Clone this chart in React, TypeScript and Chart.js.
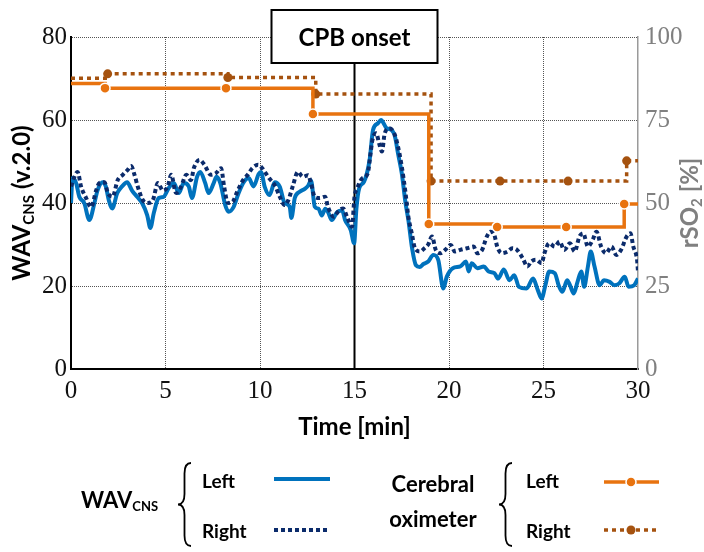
import React, { useEffect, useRef } from "react";
import { Chart, registerables } from "chart.js";

Chart.register(...registerables);

// ---------- data ----------
const xTicks = [0, 5, 10, 15, 20, 25, 30];
const leftTicks = [0, 20, 40, 60, 80];
const rightTicks = [0, 25, 50, 75, 100];
const cpbOnset = 15;

const wavLeftT = [0, 0.08, 0.27, 0.44, 0.7, 0.97, 1.24, 1.4, 1.68, 1.84, 2.0, 2.18, 2.45, 2.7, 2.97, 3.23, 3.5, 3.76, 4.03, 4.2, 4.38, 4.64, 4.9, 5.17, 5.44, 5.7, 5.97, 6.23, 6.4, 6.67, 6.84, 7.1, 7.28, 7.55, 7.7, 7.9, 8.16, 8.34, 8.6, 8.87, 9.14, 9.4, 9.66, 9.93, 10.05, 10.25, 10.5, 10.78, 11.05, 11.3, 11.57, 11.66, 11.84, 12.1, 12.37, 12.55, 12.7, 12.9, 13.1, 13.27, 13.45, 13.6, 13.8, 14.08, 14.35, 14.5, 14.8, 14.98, 15.1, 15.25, 15.5, 15.8, 15.98, 16.24, 16.4, 16.7, 16.96, 17.14, 17.3, 17.5, 17.7, 17.85, 18.05, 18.25, 18.45, 18.65, 18.9, 19.17, 19.43, 19.7, 19.88, 20.2, 20.6, 20.9, 21.04, 21.2, 21.5, 21.84, 22.1, 22.4, 22.6, 22.9, 23.2, 23.45, 23.7, 24.1, 24.45, 24.7, 24.9, 25.1, 25.3, 25.6, 25.8, 26.0, 26.25, 26.4, 26.6, 26.8, 27.0, 27.15, 27.35, 27.5, 27.7, 27.97, 28.2, 28.5, 28.75, 29.0, 29.3, 29.5, 29.8, 30];
const wavLeftV = [40, 46, 44.8, 41.5, 40, 35.9, 40, 43, 45, 44, 40.7, 38.7, 42.4, 44, 45, 43, 41.5, 40, 37.1, 34, 37.6, 41.2, 41.5, 43.6, 44.8, 42.4, 44.8, 44, 41.2, 46.3, 47.5, 44.8, 42.4, 44.8, 46.3, 44.8, 39.5, 37.9, 39, 42.4, 45, 46, 44, 47, 47.5, 43.9, 41.9, 45, 43.9, 40, 39.1, 36.4, 41.2, 42.7, 43.4, 44.2, 45.4, 39.1, 38.6, 37, 38.6, 37.8, 35.9, 37.8, 38.2, 35.9, 33.5, 30.3, 38.6, 43.6, 45.1, 50.4, 57.6, 59.2, 60, 58, 57.6, 56, 52, 47.2, 40, 35.9, 29, 25, 24.6, 25.3, 25.9, 27.5, 26.3, 19.4, 22.2, 24.3, 24.7, 25.9, 23.5, 25.5, 24.3, 24.7, 23.5, 23.1, 21.8, 24, 21.4, 22.6, 19.8, 19.4, 21.8, 19, 17, 20.2, 23.5, 23.1, 20.2, 18.6, 21.4, 20.2, 18.2, 21, 23.5, 19.8, 24.7, 28.3, 24.7, 20.2, 21.4, 21, 20.2, 20.6, 22.2, 19.8, 20.2, 21.8];

const wavRightT = [0, 0.18, 0.35, 0.53, 0.8, 1.06, 1.33, 1.5, 1.77, 1.95, 2.2, 2.47, 2.74, 3.0, 3.18, 3.36, 3.53, 3.8, 4.07, 4.33, 4.6, 4.86, 5.12, 5.3, 5.56, 5.83, 6.1, 6.35, 6.5, 6.8, 7.06, 7.4, 7.67, 7.94, 8.1, 8.3, 8.55, 8.8, 9.1, 9.35, 9.6, 9.9, 10.1, 10.25, 10.5, 10.78, 11.05, 11.3, 11.5, 11.75, 12.0, 12.27, 12.55, 12.7, 12.9, 13.15, 13.45, 13.6, 13.9, 14.15, 14.4, 14.6, 14.87, 15.0, 15.15, 15.4, 15.7, 15.85, 15.95, 16.15, 16.3, 16.45, 16.6, 16.85, 17.1, 17.3, 17.5, 17.7, 17.85, 18.03, 18.2, 18.47, 18.7, 18.9, 19.1, 19.3, 19.55, 19.8, 20.1, 20.3, 20.6, 20.95, 21.3, 21.5, 21.75, 22.0, 22.2, 22.4, 22.55, 22.8, 23.1, 23.35, 23.6, 23.9, 24.15, 24.35, 24.6, 24.9, 25.05, 25.3, 25.6, 25.85, 26.1, 26.4, 26.65, 26.9, 27.1, 27.35, 27.6, 27.8, 28.05, 28.3, 28.6, 28.85, 29.1, 29.4, 29.6, 29.75, 29.95, 30];
const wavRightV = [44, 46.3, 47.5, 44, 41.2, 39, 43, 44.8, 45, 42.4, 41.5, 45.5, 46.8, 48, 48.9, 46.8, 44, 40.7, 40, 40.7, 44.8, 43, 44, 46.8, 42.4, 44, 46.8, 45.5, 48.4, 50.4, 49.2, 46.8, 47.2, 48.4, 44, 40, 40.3, 42.8, 45.5, 46.8, 48.4, 49.2, 48.5, 47.5, 45.9, 44.3, 41.5, 39.5, 40.7, 44.3, 47.5, 46.3, 46.7, 44.7, 41.5, 41.2, 41.5, 39, 36.7, 38, 38.7, 36.7, 34.3, 41.5, 43.6, 45.9, 47.1, 52, 55.2, 56.8, 54.4, 52.4, 56.8, 58, 56.8, 53.6, 48.8, 42.4, 36.7, 32.7, 29.1, 28.3, 29.1, 30, 31.9, 28.7, 27.9, 28.7, 29.9, 28.3, 28.7, 29.1, 29.5, 27.9, 28.7, 31.9, 33.1, 32.3, 29.5, 27.9, 28.3, 29.1, 28.7, 26.7, 24.7, 25.9, 26.3, 25.5, 27.9, 30.3, 29.5, 30.7, 28.7, 30.3, 28.3, 31.9, 32.7, 29.5, 31.1, 33.1, 29.5, 27.9, 29.5, 27.5, 28.7, 31.9, 32.7, 29.5, 26.3, 23.5];

const oxLeftT = [0, 1.8, 8.2, 12.8, 18.93, 22.55, 26.2, 29.27, 30];
const oxLeftV = [86, 84.6, 84.6, 76.8, 43.7, 42.8, 42.8, 49.7, 49.7];
const oxRightT = [0, 1.94, 8.3, 12.95, 19.05, 22.7, 26.3, 29.4, 30];
const oxRightV = [87.6, 88.9, 87.8, 82.8, 56.6, 56.6, 56.6, 62.7, 62.7];

// ---------- styles ----------
const BLUE = "#0072BD";
const NAVY = "#0B2B6B";
const ORANGE = "#E8730F";
const BROWN = "#A5520F";
const GRAY = "#808080";
const GRID = "#555555";
const BOLD = "Lato, 'Open Sans', sans-serif";
const SERIF = "'Liberation Serif'";

Chart.defaults.font.family = SERIF;
Chart.defaults.font.size = 25;

const zip = (t: number[], v: number[]) => t.map((x, i) => ({ x, y: v[i] }));

type Run = [string, number, number];

function drawRuns(ctx: CanvasRenderingContext2D, x: number, y: number, runs: Run[], color: string, center: boolean) {
  ctx.fillStyle = color;
  ctx.textAlign = "left";
  ctx.textBaseline = "alphabetic";
  const widths = runs.map(([t, s]) => {
    ctx.font = `bold ${s}px ${BOLD}`;
    return ctx.measureText(t).width;
  });
  const total = widths.reduce((a, b) => a + b, 0);
  let cx = center ? x - total / 2 : x;
  runs.forEach(([t, s, dy], i) => {
    ctx.font = `bold ${s}px ${BOLD}`;
    ctx.fillText(t, cx, y + dy);
    cx += widths[i];
  });
}

function drawRotated(ctx: CanvasRenderingContext2D, cx: number, cy: number, runs: Run[], color: string) {
  ctx.save();
  ctx.translate(cx, cy);
  ctx.rotate(-Math.PI / 2);
  drawRuns(ctx, 0, 8.5, runs, color, true);
  ctx.restore();
}

function brace(ctx: CanvasRenderingContext2D, x: number, yTop: number, yBot: number, w: number) {
  const ym = (yTop + yBot) / 2;
  const r = w / 2;
  ctx.beginPath();
  ctx.moveTo(x + w, yTop);
  ctx.quadraticCurveTo(x + r, yTop, x + r, yTop + r * 1.6);
  ctx.lineTo(x + r, ym - r * 1.6);
  ctx.quadraticCurveTo(x + r, ym, x, ym);
  ctx.quadraticCurveTo(x + r, ym, x + r, ym + r * 1.6);
  ctx.lineTo(x + r, yBot - r * 1.6);
  ctx.quadraticCurveTo(x + r, yBot, x + w, yBot);
  ctx.stroke();
}

function sampleLine(ctx: CanvasRenderingContext2D, x1: number, x2: number, y: number, color: string, width: number, dash: number[]) {
  ctx.save();
  ctx.strokeStyle = color;
  ctx.lineWidth = width;
  ctx.setLineDash(dash);
  ctx.beginPath();
  ctx.moveTo(x1, y);
  ctx.lineTo(x2, y);
  ctx.stroke();
  ctx.restore();
}

function dot(ctx: CanvasRenderingContext2D, x: number, y: number, r: number, fill: string, stroke: string | null) {
  ctx.beginPath();
  ctx.arc(x, y, r, 0, Math.PI * 2);
  ctx.fillStyle = fill;
  ctx.fill();
  if (stroke) {
    ctx.strokeStyle = stroke;
    ctx.lineWidth = 1.5;
    ctx.stroke();
  }
}

const decor = {
  id: "decor",
  beforeDatasetsDraw(chart: any) {
    const { ctx, chartArea, scales } = chart;
    const x = scales.x.getPixelForValue(cpbOnset);
    ctx.save();
    ctx.strokeStyle = "#000";
    ctx.lineWidth = 2;
    ctx.beginPath();
    ctx.moveTo(x, 60);
    ctx.lineTo(x, chartArea.bottom);
    ctx.stroke();
    ctx.restore();
  },
  afterDraw(chart: any) {
    const { ctx, chartArea, scales } = chart;
    const x = scales.x.getPixelForValue(cpbOnset);
    const midY = (chartArea.top + chartArea.bottom) / 2;
    ctx.save();
    // CPB onset box
    ctx.fillStyle = "#fff";
    ctx.strokeStyle = "#000";
    ctx.lineWidth = 2;
    ctx.fillRect(x - 83, 10, 166, 53);
    ctx.strokeRect(x - 83, 10, 166, 53);
    drawRuns(ctx, x, 45.5, [["CPB onset", 24, 0]], "#000", true);

    // axis titles
    drawRuns(ctx, (chartArea.left + chartArea.right) / 2, 435, [["Time [min]", 24, 0]], "#000", true);
    drawRotated(ctx, 21, midY, [["WAV", 24, 0], ["CNS", 15, 4], [" (v.2.0)", 24, 0]], "#000");
    drawRotated(ctx, 689, midY, [["rSO", 24, 0], ["2", 15, 4], [" [%]", 24, 0]], GRAY);

    // legend
    drawRuns(ctx, 81, 508, [["WAV", 22, 0], ["CNS", 13, 3]], "#000", false);
    ctx.strokeStyle = "#000";
    ctx.lineWidth = 1.8;
    brace(ctx, 178, 463, 546, 13);
    drawRuns(ctx, 202, 488, [["Left", 19, 0]], "#000", false);
    drawRuns(ctx, 202, 538, [["Right", 19, 0]], "#000", false);
    sampleLine(ctx, 274, 330, 479, BLUE, 4, []);
    sampleLine(ctx, 274, 330, 530, NAVY, 4, [4, 3]);

    drawRuns(ctx, 433, 492, [["Cerebral", 22, 0]], "#000", true);
    drawRuns(ctx, 433, 527, [["oximeter", 22, 0]], "#000", true);
    ctx.strokeStyle = "#000";
    ctx.lineWidth = 1.8;
    brace(ctx, 499, 463, 546, 13);
    drawRuns(ctx, 526, 488, [["Left", 19, 0]], "#000", false);
    drawRuns(ctx, 526, 538, [["Right", 19, 0]], "#000", false);
    sampleLine(ctx, 604, 659, 482, ORANGE, 3.5, []);
    dot(ctx, 631, 482, 5, ORANGE, "#fff");
    sampleLine(ctx, 604, 659, 530, BROWN, 3.5, [4, 4]);
    dot(ctx, 631, 530, 4.5, BROWN, null);
    ctx.restore();
  },
};

export default function App() {
  const ref = useRef<HTMLCanvasElement>(null);
  useEffect(() => {
    const lastIdx = (n: number, r: number) => (c: any) => (c.dataIndex === 0 || c.dataIndex === n - 1 ? 0 : r);
    const tickFont = { family: SERIF, size: 25 };
    const chart = new Chart(ref.current as HTMLCanvasElement, {
      type: "line",
      data: {
        datasets: [
          {
            label: "Cerebral oximeter Left",
            data: zip(oxLeftT, oxLeftV),
            yAxisID: "y2",
            borderColor: ORANGE,
            borderWidth: 3.5,
            stepped: "before",
            pointRadius: lastIdx(oxLeftT.length, 5),
            pointBackgroundColor: ORANGE,
            pointBorderColor: "#fff",
            pointBorderWidth: 1.5,
            fill: false,
          },
          {
            label: "Cerebral oximeter Right",
            data: zip(oxRightT, oxRightV),
            yAxisID: "y2",
            borderColor: BROWN,
            borderWidth: 3.5,
            borderDash: [4, 4],
            stepped: "before",
            pointRadius: lastIdx(oxRightT.length, 4.5),
            pointBackgroundColor: BROWN,
            pointBorderColor: BROWN,
            pointBorderWidth: 0,
            fill: false,
          },
          {
            label: "WAV Right",
            data: zip(wavRightT, wavRightV),
            yAxisID: "y",
            borderColor: NAVY,
            borderWidth: 4,
            borderDash: [4, 3],
            pointRadius: 0,
            cubicInterpolationMode: "monotone",
            fill: false,
          },
          {
            label: "WAV Left",
            data: zip(wavLeftT, wavLeftV),
            yAxisID: "y",
            borderColor: BLUE,
            borderWidth: 4,
            pointRadius: 0,
            cubicInterpolationMode: "monotone",
            fill: false,
          },
        ] as any,
      },
      options: {
        responsive: false,
        animation: false,
        devicePixelRatio: 1,
        font: { family: SERIF, size: 25 },
        layout: { padding: { top: 37, bottom: 112, left: 0, right: 0 } },
        plugins: { legend: { display: false }, tooltip: { enabled: false } },
        scales: {
          x: {
            type: "linear",
            min: 0,
            max: 30,
            afterBuildTicks: (axis: any) => {
              axis.ticks = xTicks.map((v) => ({ value: v }));
            },
            afterFit: (axis: any) => {
              axis.height = 71;
            },
            grid: {
              color: (c: any) => (c.tick && (c.tick.value === 0 || c.tick.value === 30) ? "rgba(0,0,0,0)" : GRID),
              lineWidth: 1,
              drawTicks: false,
            },
            border: { display: true, color: "#000", width: 2, dash: [1, 1] },
            ticks: { font: tickFont, color: "#111", padding: 7, maxRotation: 0, autoSkip: false },
          },
          y: {
            type: "linear",
            position: "left",
            min: 0,
            max: 80,
            afterBuildTicks: (axis: any) => {
              axis.ticks = leftTicks.map((v) => ({ value: v }));
            },
            afterFit: (axis: any) => {
              axis.width = 71;
            },
            grid: {
              color: (c: any) => (c.tick && c.tick.value === 0 ? "rgba(0,0,0,0)" : GRID),
              lineWidth: 1,
              drawTicks: false,
            },
            border: { display: true, color: "#000", width: 2, dash: [1, 1] },
            ticks: { font: tickFont, color: "#111", padding: 4 },
          },
          y2: {
            type: "linear",
            position: "right",
            min: 0,
            max: 100,
            afterBuildTicks: (axis: any) => {
              axis.ticks = rightTicks.map((v) => ({ value: v }));
            },
            afterFit: (axis: any) => {
              axis.width = 66;
            },
            grid: { drawOnChartArea: false, drawTicks: false },
            border: { display: true, color: "#9a9a9a", width: 1.5 },
            ticks: { font: tickFont, color: GRAY, padding: 7 },
          },
        },
      } as any,
      plugins: [decor],
    });
    return () => chart.destroy();
  }, []);

  return (
    <div style={{ position: "absolute", left: 0, top: 0, width: 704, height: 552, background: "#fff" }}>
      <canvas ref={ref} width={704} height={552} style={{ display: "block", width: 704, height: 552 }} />
    </div>
  );
}
